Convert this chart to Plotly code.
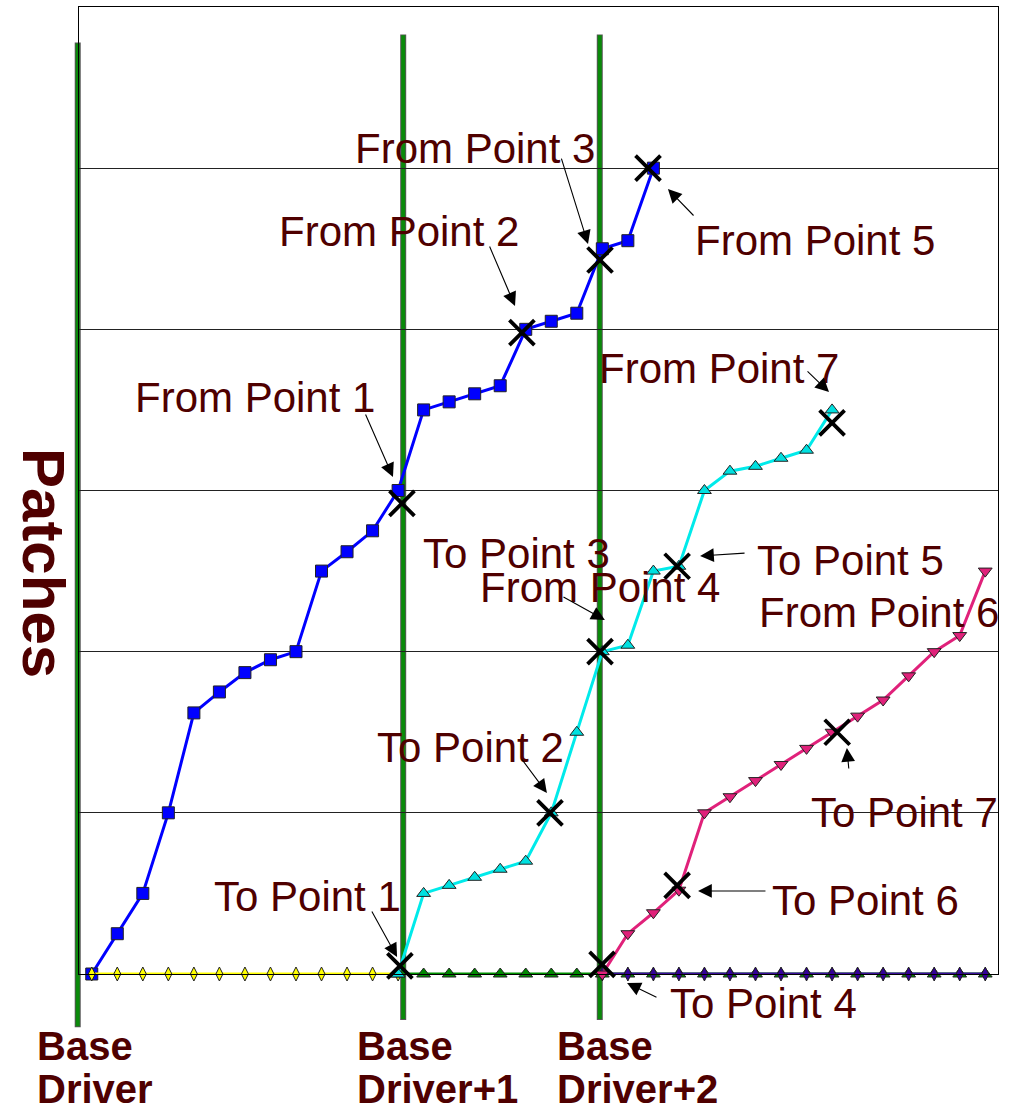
import plotly.graph_objects as go

# ---- data: release steps on x, cumulative patch level on y ----
blue_x = list(range(0, 23))
blue_y = [0, 0.25, 0.5, 1.0, 1.62, 1.75, 1.87, 1.95, 2.0, 2.5, 2.62, 2.75,
          3.0, 3.5, 3.55, 3.6, 3.65, 4.0, 4.05, 4.1, 4.5, 4.55, 5.0]

yellow_x = list(range(0, 13))
yellow_y = [0, 0, 0, 0, 0, 0, 0, 0, 0, 0, 0, 0, 0]

green_x = list(range(12, 36))
green_y = [0, 0, 0, 0, 0, 0, 0, 0, 0, 0, 0, 0,
           0, 0, 0, 0, 0, 0, 0, 0, 0, 0, 0, 0]

cyan_x = list(range(12, 30))
cyan_y = [0, 0.5, 0.55, 0.6, 0.65, 0.7, 1.0, 1.5, 2.0, 2.04, 2.5, 2.53,
          3.0, 3.12, 3.15, 3.2, 3.25, 3.5]

purple_x = list(range(20, 36))
purple_y = [0, 0, 0, 0, 0, 0, 0, 0, 0, 0, 0, 0, 0, 0, 0, 0]

pink_x = list(range(20, 36))
pink_y = [0, 0.25, 0.38, 0.52, 1.0, 1.1, 1.2, 1.3, 1.4, 1.5, 1.6, 1.7,
          1.85, 2.0, 2.1, 2.5]

# crossing points (from/to markers)
cross_x = [12.15, 16.85, 19.91, 21.79, 29.0, 22.93, 19.91, 17.95, 12.07, 19.99, 22.93, 29.2]
cross_y = [2.92, 3.98, 4.43, 5.0, 3.42, 2.53, 2.0, 1.0, 0.05, 0.06, 0.55, 1.5]

# driver release positions
driver_x = [-0.55, 12.2, 19.9]
driver_top = [5.78, 5.83, 5.83]
driver_bottom = [-0.33, -0.285, -0.285]
driver_label_x = [-2.22, 10.31, 18.15]
driver_label_line1 = ["Base", "Base", "Base"]
driver_label_line2 = ["Driver", "Driver+1", "Driver+2"]

# callout texts: (text, left x, middle y)
callout_text = ["From Point 1", "From Point 2", "From Point 3", "From Point 5",
                "From Point 7", "To Point 3", "From Point 4", "To Point 5",
                "From Point 6", "To Point 2", "To Point 7", "To Point 1",
                "To Point 6", "To Point 4"]
callout_x = [1.615, 7.256, 10.233, 23.55, 19.79, 12.897, 15.13, 25.98,
             26.06, 11.095, 28.096, 4.71, 26.568, 22.572]
callout_y = [3.574, 4.604, 5.125, 4.554, 3.760, 2.606, 2.401, 2.563,
             2.246, 1.408, 1.005, 0.478, 0.459, -0.180]

# arrows: tail -> head
arrow_tail_x = [10.70, 15.56, 18.38, 23.63, 27.98, 25.63, 18.42, 16.81, 10.94, 22.18, 26.45, 29.66]
arrow_tail_y = [3.481, 4.523, 5.069, 4.697, 3.748, 2.612, 2.345, 1.340, 0.397, -0.149, 0.515, 1.266]
arrow_head_x = [11.80, 16.58, 19.44, 22.57, 28.88, 23.83, 20.10, 17.83, 11.96, 20.97, 23.75, 29.58]
arrow_head_y = [3.084, 4.145, 4.529, 4.871, 3.611, 2.594, 2.196, 1.123, 0.105, -0.056, 0.515, 1.402]

X_RANGE = [-0.5, 35.5]
Y_RANGE = [0, 6]
TEXT_COLOR = "#4f0000"
FONT = "Liberation Sans"

WIDTH, HEIGHT = 1011, 1112
MARGIN = dict(l=79, r=13, t=7, b=138)
PLOT_W = WIDTH - MARGIN["l"] - MARGIN["r"]
PLOT_H = HEIGHT - MARGIN["t"] - MARGIN["b"]


def px(x):
    """data x -> paper fraction (lets labels sit outside the axes)"""
    return (x - X_RANGE[0]) / (X_RANGE[1] - X_RANGE[0])


def py(y):
    return (y - Y_RANGE[0]) / (Y_RANGE[1] - Y_RANGE[0])


fig = go.Figure()


def series(x, y, line_color, symbol, fill, size, width=3):
    fig.add_trace(go.Scatter(
        x=x, y=y, mode="lines+markers", cliponaxis=False,
        line=dict(color=line_color, width=width),
        marker=dict(symbol=symbol, size=size, color=fill,
                    line=dict(color="#222222", width=1)),
        showlegend=False, hoverinfo="skip"))


series(blue_x, blue_y, "#0000ff", "square", "#0000ff", 12)
series(yellow_x, yellow_y, "#ffff00", "diamond-tall", "#ffff00", 10)
series(green_x, green_y, "#009000", "triangle-up", "#008a00", 12)
series(cyan_x, cyan_y, "#00eaea", "triangle-up", "#00e0e0", 12)
series(purple_x, purple_y, "#3b0f9a", "diamond-tall", "#330099", 10)
series(pink_x, pink_y, "#e0217a", "triangle-down", "#e0217a", 12)

fig.add_trace(go.Scatter(
    x=cross_x, y=cross_y, mode="markers", cliponaxis=False,
    marker=dict(symbol="x-thin", size=25, color="black",
                line=dict(color="black", width=3.8)),
    showlegend=False, hoverinfo="skip"))

# driver release lines (outlined green bars)
for dx, top, bot in zip(driver_x, driver_top, driver_bottom):
    fig.add_shape(type="line", xref="paper", yref="paper", x0=px(dx), x1=px(dx),
                  y0=py(bot), y1=py(top), layer="between",
                  line=dict(color="#555555", width=6))
    fig.add_shape(type="line", xref="paper", yref="paper", x0=px(dx), x1=px(dx),
                  y0=py(bot) + 0.001, y1=py(top) - 0.001, layer="between",
                  line=dict(color="#0a8a0a", width=4))

annotations = []
for t, x, y in zip(callout_text, callout_x, callout_y):
    annotations.append(dict(
        x=px(x), y=py(y), xref="paper", yref="paper", text=t, showarrow=False,
        xanchor="left", yanchor="middle",
        font=dict(family=FONT, size=42, color=TEXT_COLOR)))

for tx, ty, hx, hy in zip(arrow_tail_x, arrow_tail_y, arrow_head_x, arrow_head_y):
    annotations.append(dict(
        x=px(hx), y=py(hy), xref="paper", yref="paper",
        ax=(px(tx) - px(hx)) * PLOT_W, ay=-(py(ty) - py(hy)) * PLOT_H,
        text="", showarrow=True, arrowhead=2, arrowsize=2.5, arrowwidth=1.1,
        arrowcolor="black"))

for lx, l1, l2 in zip(driver_label_x, driver_label_line1, driver_label_line2):
    annotations.append(dict(
        x=px(lx), y=py(-0.447), xref="paper", yref="paper", text=l1,
        showarrow=False, xanchor="left", yanchor="middle",
        font=dict(family=FONT, size=40, color=TEXT_COLOR, weight="bold")))
    annotations.append(dict(
        x=px(lx), y=py(-0.715), xref="paper", yref="paper", text=l2,
        showarrow=False, xanchor="left", yanchor="middle",
        font=dict(family=FONT, size=40, color=TEXT_COLOR, weight="bold")))

annotations.append(dict(
    x=px(-1.87), y=py(2.55), xref="paper", yref="paper", text="Patches",
    showarrow=False, textangle=90, xanchor="center", yanchor="middle",
    font=dict(family=FONT, size=60, color=TEXT_COLOR, weight="bold")))

fig.update_layout(
    width=WIDTH, height=HEIGHT,
    margin=MARGIN,
    paper_bgcolor="white", plot_bgcolor="white",
    annotations=annotations,
    xaxis=dict(range=X_RANGE, showgrid=False, zeroline=False,
               showticklabels=False, ticks="", showline=True,
               mirror=True, linecolor="black", linewidth=1),
    yaxis=dict(range=Y_RANGE, dtick=1, showgrid=True, gridcolor="#222222",
               gridwidth=1, zeroline=False, showticklabels=False, ticks="",
               showline=True, mirror=True, linecolor="black", linewidth=1),
)

fig.write_html("out.html")
